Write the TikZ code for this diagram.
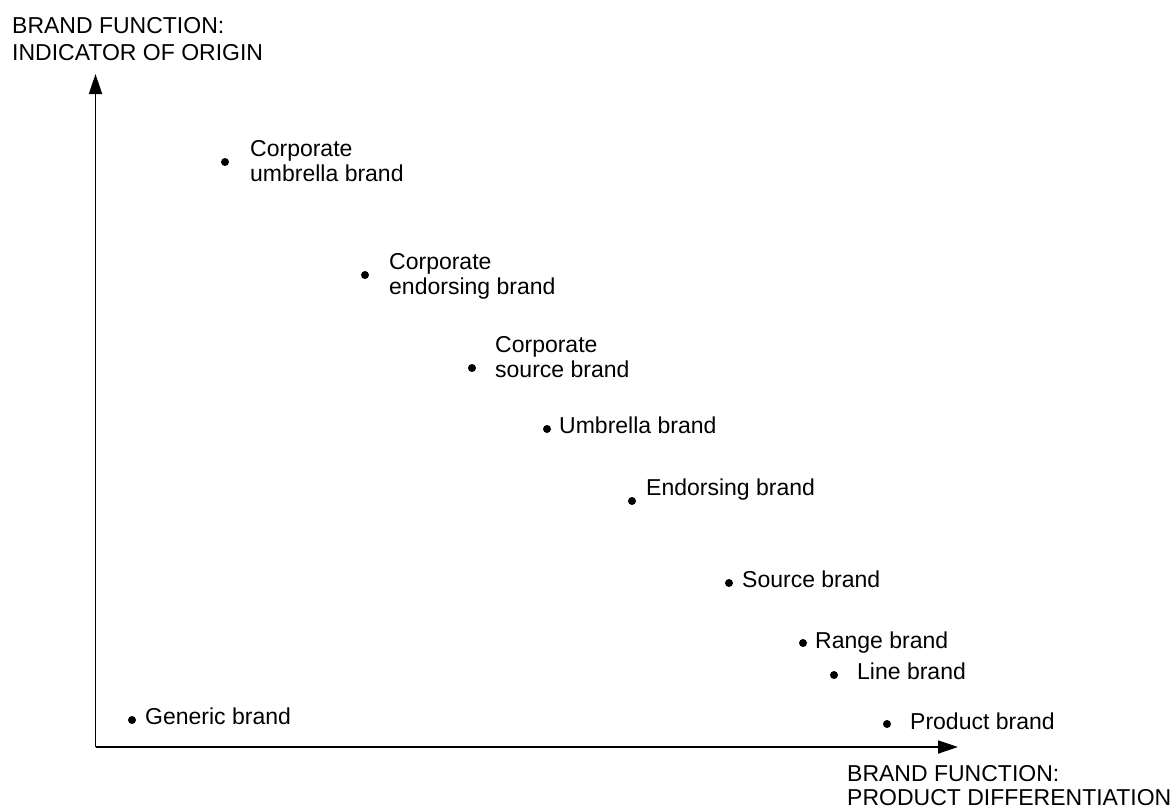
\documentclass[tikz,border=0pt]{standalone}
\usepackage{fontspec}
\setmainfont{Liberation Sans}
\usetikzlibrary{arrows.meta}
\tikzset{
  pt/.style={circle, fill=black, inner sep=0pt, minimum size=8pt},
  lbl/.style={anchor=base west, inner sep=0pt, align=left, font=\fontsize{23}{24.5}\selectfont},
  axis/.style={line width=1.8pt, -{Triangle[length=20pt,width=13pt]}},
  title/.style={anchor=base west, inner sep=0pt, align=left, font=\fontsize{23}{27}\selectfont}
}
\begin{document}
\begin{tikzpicture}[x=1pt,y=-1pt]
\useasboundingbox (0,0) rectangle (1176,809);
% axes
\coordinate (o) at (95.5,747);
\coordinate (ytip) at (95.5,74);
\coordinate (xtip) at (958,747);
\draw[axis] (o) -- (ytip);
\draw[axis] (o) -- (xtip);
% axis titles (base anchor = last line)
\node[title] (ytitle) at (12,60) {BRAND FUNCTION:\\INDICATOR OF ORIGIN};
\node[title, font=\fontsize{23}{24}\selectfont] (xtitle) at (847,805) {BRAND FUNCTION:\\PRODUCT DIFFERENTIATION};
% points
\node[pt] (cu) at (225,162) {};
\node[lbl] (cul) at (250,181) {Corporate\\umbrella brand};
\node[pt] (ce) at (365,275) {};
\node[lbl] (cel) at (389,294) {Corporate\\endorsing brand};
\node[pt] (cs) at (472,368) {};
\node[lbl] (csl) at (495,377) {Corporate\\source brand};
\node[pt] (ub) at (547,429) {};
\node[lbl] (ubl) at (559,433) {Umbrella brand};
\node[pt] (eb) at (632,501) {};
\node[lbl] (ebl) at (646,495) {Endorsing brand};
\node[pt] (sb) at (729,583) {};
\node[lbl] (sbl) at (742,587) {Source brand};
\node[pt] (rb) at (803,643) {};
\node[lbl] (rbl) at (815,648) {Range brand};
\node[pt] (lb) at (834,675) {};
\node[lbl] (lbl) at (857,679) {Line brand};
\node[pt] (gb) at (132,720) {};
\node[lbl] (gbl) at (145,724) {Generic brand};
\node[pt] (pb) at (887,724) {};
\node[lbl] (pbl) at (910,729) {Product brand};
\end{tikzpicture}
\end{document}
